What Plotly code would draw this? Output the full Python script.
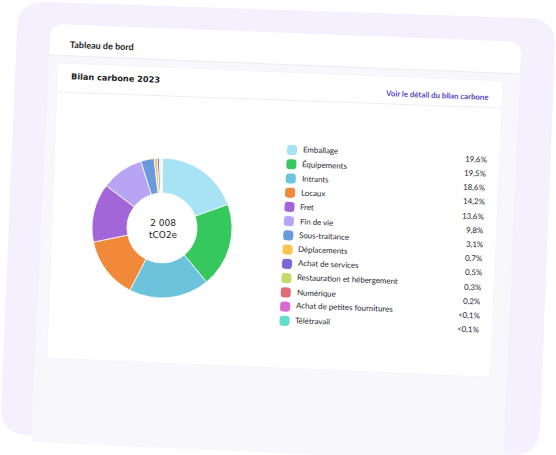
import math
import plotly.graph_objects as go

# ---------------- data ----------------
categories = ["Emballage", "Équipements", "Intrants", "Locaux", "Fret", "Fin de vie",
              "Sous-traitance", "Déplacements", "Achat de services",
              "Restauration et hébergement", "Numérique",
              "Achat de petites fournitures", "Télétravail"]
values = [19.6, 19.5, 18.6, 14.2, 13.6, 9.8, 3.1, 0.7, 0.5, 0.3, 0.2, 0.05, 0.04]
pct_labels = ["19,6%", "19,5%", "18,6%", "14,2%", "13,6%", "9,8%", "3,1%", "0,7%",
              "0,5%", "0,3%", "0,2%", "<0,1%", "<0,1%"]
colors = ["#a7e3f4", "#36c75f", "#6dc3db", "#f0893a", "#a266d9", "#b7a5f4",
          "#6a9ade", "#f8c550", "#7868da", "#c3db6c", "#df6a78", "#d96bd0", "#62dccb"]
total_label = "2 008<br>tCO2e"
title_main = "Tableau de bord"
title_card = "Bilan carbone 2023"
link_text = "Voir le détail du bilan carbone"

W, H = 556, 455
ANG = 2.2  # slight tilt of the device mockup, degrees


def rounded_path(pts, r):
    """Closed path through the 4 corners with rounded corners of radius r."""
    n = len(pts)
    rr = r if isinstance(r, (list, tuple)) else [r] * n
    segs = []
    for i in range(n):
        p = pts[i]
        a = pts[i - 1]
        b = pts[(i + 1) % n]
        def toward(q, d):
            dx, dy = q[0] - p[0], q[1] - p[1]
            L = math.hypot(dx, dy)
            return (p[0] + dx / L * d, p[1] + dy / L * d)
        s = toward(a, rr[i])
        e = toward(b, rr[i])
        cmd = "M" if i == 0 else "L"
        segs.append(f"{cmd}{s[0]:.2f},{s[1]:.2f} Q{p[0]:.2f},{p[1]:.2f} {e[0]:.2f},{e[1]:.2f}")
    return " ".join(segs) + " Z"


shapes = []


def poly(pts, fill, r=0, line=None, lw=0):
    shapes.append(dict(type="path", xref="x", yref="y", layer="below",
                       path=rounded_path(pts, r), fillcolor=fill,
                       line=dict(color=line or fill, width=lw)))


# outer lavender frame
poly([(18, 1), (556, 19), (539, 456), (0, 434)], "#f4f0fd", r=28)
# screen
poly([(51, 24), (521, 42), (503, 463), (31, 442)], "#f8f8fc", r=[12, 12, 4, 4])
# header (white)
poly([(51, 24), (521, 42), (520, 74), (49, 55)], "#ffffff", r=[12, 12, 0, 0])
shapes.append(dict(type="line", xref="x", yref="y", layer="below",
                   x0=49, y0=55, x1=520, y1=74, line=dict(color="#ebebf3", width=1)))
# card
poly([(58, 63), (503, 81), (490, 377), (47, 358)], "#ffffff", r=4, line="#f0f0f5", lw=0.5)
shapes.append(dict(type="line", xref="x", yref="y", layer="below",
                   x0=58, y0=92, x1=502, y1=108, line=dict(color="#eeeef4", width=1)))

annotations = []


def txt(x, y, s, size, color="#2b2b33", xanchor="left", family="Lato", weight=None):
    f = dict(size=size, color=color, family=family)
    if weight:
        f["weight"] = weight
    annotations.append(dict(x=x, y=y, xref="x", yref="y", text=s, showarrow=False,
                            xanchor=xanchor, yanchor="middle", textangle=ANG, font=f))


txt(68, 45, title_main, 9, color="#1e1e26", weight=700)
txt(69, 78, title_card, 8.2, color="#1e1e26", family="DejaVu Sans", weight=700)
txt(491, 95, link_text, 7.8, color="#5546c2", xanchor="right", weight=700)

# legend (custom, tilted)
a = math.radians(2.5)
ux, uy = math.cos(a), math.sin(a)
step = 14.25
vx, vy = -math.sin(a) * step, math.cos(a) * step
ox, oy = 292.0, 150.0
for i, (name, pct, col) in enumerate(zip(categories, pct_labels, colors)):
    cx, cy = ox + i * vx, oy + i * vy
    h = 5.0
    corners = []
    for (sx, sy) in [(-h, -h), (h, -h), (h, h), (-h, h)]:
        corners.append((cx + sx * ux - sy * uy, cy + sx * uy + sy * ux))
    shapes.append(dict(type="path", xref="x", yref="y", layer="below",
                       path=rounded_path(corners, 3.2), fillcolor=col,
                       line=dict(color=col, width=0)))
    lx, ly = cx + 8.5 * ux, cy + 8.5 * uy
    txt(lx, ly, name, 7.9, color="#26262e")
    px, py = cx + 197 * ux, cy + 197 * uy
    txt(px, py, pct, 7.9, color="#26262e", xanchor="right")

# donut
cxp, cyp, R = 162, 228, 70
fig = go.Figure()
fig.add_trace(go.Pie(
    labels=categories, values=values, hole=0.5, sort=False, direction="clockwise",
    rotation=0, marker=dict(colors=colors, line=dict(color="#ffffff", width=0.8)),
    textinfo="none", hoverinfo="label+percent", showlegend=False,
    domain=dict(x=[(cxp - R) / W, (cxp + R) / W], y=[1 - (cyp + R) / H, 1 - (cyp - R) / H]),
))
annotations.append(dict(x=163, y=229, xref="x", yref="y", text=total_label, showarrow=False,
                        xanchor="center", yanchor="middle",
                        font=dict(size=9, color="#1e1e26", family="DejaVu Sans")))

fig.update_layout(
    width=W, height=H, margin=dict(l=0, r=0, t=0, b=0),
    paper_bgcolor="#ffffff", plot_bgcolor="rgba(0,0,0,0)",
    xaxis=dict(range=[0, W], visible=False, fixedrange=True),
    yaxis=dict(range=[H, 0], visible=False, fixedrange=True),
    shapes=shapes, annotations=annotations, showlegend=False,
)
fig.write_html("out.html")
